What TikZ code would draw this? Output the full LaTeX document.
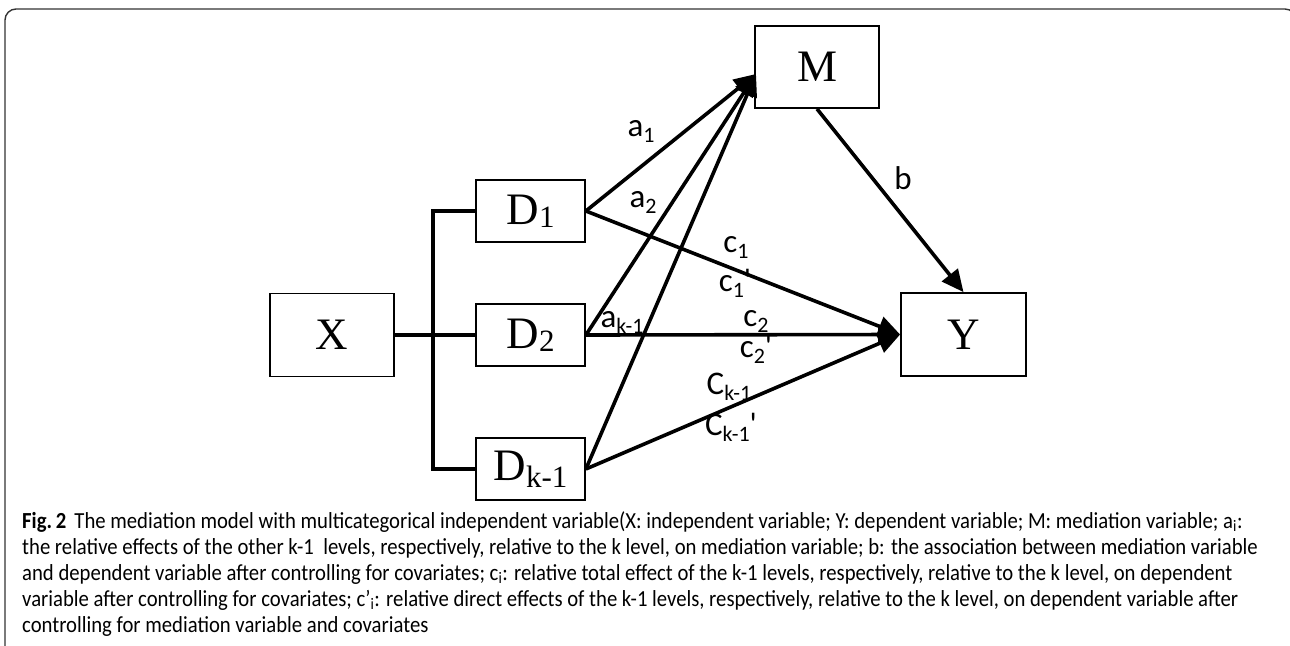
\documentclass[tikz,border=0pt]{standalone}
\usepackage{fontspec}
\setmainfont{Liberation Serif}
\newfontfamily\lblfont{Carlito}
\newfontfamily\capfont[FakeStretch=0.9]{Carlito}
\usetikzlibrary{arrows.meta}
\newcommand\lsub[1]{\raisebox{-6pt}{\fontsize{22}{22}\selectfont #1}}
\newcommand\dsub[2]{\raisebox{#1}{\fontsize{31}{31}\selectfont #2}}
\begin{document}
\begin{tikzpicture}[x=1pt,y=-1pt,
  box/.style={draw,line width=1.8pt,inner sep=0pt,font=\fontsize{45}{50}\selectfont},
  bigbox/.style={box,minimum width=124pt,minimum height=83pt},
  dbox/.style={box,minimum width=109pt,minimum height=62pt},
  bus/.style={line width=3.6pt},
  arr/.style={line width=3.6pt,-{Triangle[length=22pt,width=20pt]}},
  lbl/.style={inner sep=0pt,font=\lblfont\fontsize{33}{36}\selectfont},
  captext/.style={anchor=base west,inner sep=0pt,font=\capfont\fontsize{23}{25}\selectfont}]
\useasboundingbox (0,0) rectangle (1290,645);
\fill[white] (0,0) rectangle (1290,645);
% frame
\draw[line width=1.4pt,black!80,rounded corners=11pt] (5,650) -- (5,9) -- (1296,9) -- (1296,650);
% boxes
\node[bigbox] (X) at (332,335) {X};
\node[dbox] (D1) at (530.5,211) {D\dsub{-3pt}{1}};
\node[dbox] (D2) at (530.5,335) {D\dsub{-3pt}{2}};
\node[dbox] (Dk) at (530.5,469) {D\dsub{-7pt}{k-1}};
\node[bigbox,minimum height=82pt] (M) at (817,67) {M};
\node[bigbox,minimum width=125pt] (Y) at (963.5,334.5) {Y};
% bus
\coordinate (bx) at (433,335);
\draw[bus] (X.east) -- (D2.west);
\draw[bus,line cap=rect] (D1.west) -- (D1.west -| bx) -- (Dk.west -| bx) -- (Dk.west);
% arrows to M
\coordinate (mt) at (756,74);
\draw[arr] (D1.east) -- (mt);
\draw[arr] (D2.east) -- (mt);
\draw[arr] (Dk.east) -- (mt);
% arrows to Y
\draw[arr] (D1.east) -- (Y.west);
\draw[arr] (D2.east) -- (Y.west);
\draw[arr] (Dk.east) -- (Y.west);
\draw[arr] (M.south) -- (Y.north);
% labels
\node[lbl] (la1) at (641,131) {a\lsub{1}};
\node[lbl] (lb) at (903,178) {b};
\node[lbl] (la2) at (643,202) {a\lsub{2}};
\node[lbl] (lc1) at (736,247) {c\lsub{1}};
\node[lbl] (lc1p) at (735,283) {c\lsub{1}'};
\node[lbl] (lak) at (622,322) {a\lsub{k-1}};
\node[lbl] (lc2) at (756,321) {c\lsub{2}};
\node[lbl] (lc2p) at (756,349) {c\lsub{2}'};
\node[lbl] (lck) at (729,387) {C\lsub{k-1}};
\node[lbl] (lckp) at (731,427) {C\lsub{k-1}'};
% caption
\node[captext] (c1) at (22,528) {{\bfseries Fig.\,2}\hspace{8pt}The mediation model with multicategorical independent variable(X: independent variable; Y: dependent variable; M: mediation variable; a\textsubscript{i}:};
\node[captext] (c2) at (22,554) {the relative effects of the other k-1\ \ levels, respectively, relative to the k level, on mediation variable; b: the association between mediation variable};
\node[captext] (c3) at (22,580) {and dependent variable after controlling for covariates; c\textsubscript{i}: relative total effect of the k-1 levels, respectively, relative to the k level, on dependent};
\node[captext] (c4) at (22,606) {variable after controlling for covariates; c’\textsubscript{i}: relative direct effects of the k-1 levels, respectively, relative to the k level, on dependent variable after};
\node[captext] (c5) at (22,632) {controlling for mediation variable and covariates};
\end{tikzpicture}
\end{document}
